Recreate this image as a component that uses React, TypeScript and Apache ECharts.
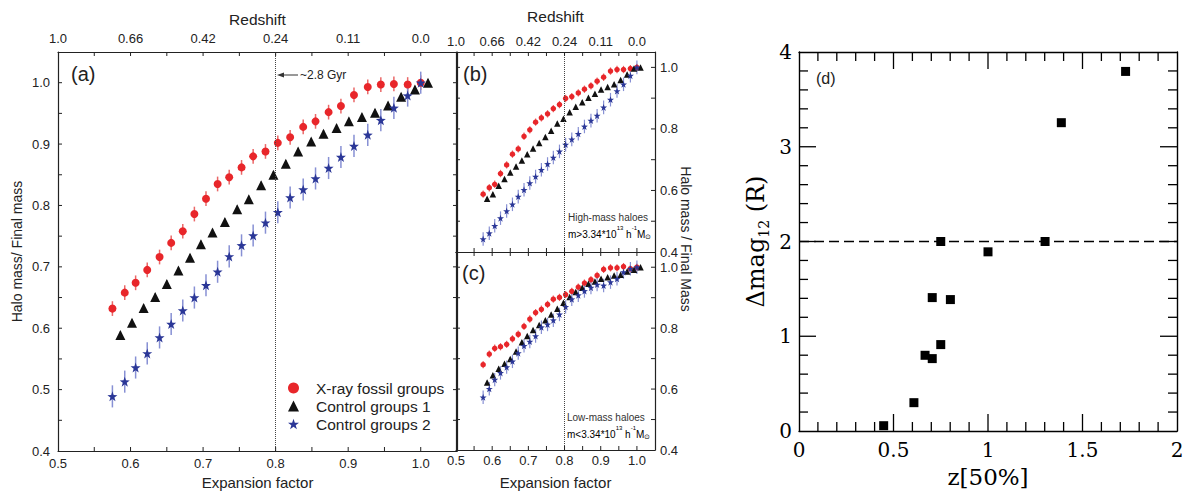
import React, { useEffect, useRef } from "react";
import * as echarts from "echarts";

const SANS = "'Liberation Sans', Arial, Helvetica, sans-serif";
const SERIF = "'DejaVu Serif', 'Liberation Serif', serif";
const AX = "#222";

const SERIES_NAMES = ["X-ray fossil groups", "Control groups 1", "Control groups 2"];
const REDSHIFT_LABELS = ["1.0", "0.66", "0.42", "0.24", "0.11", "0.0"];
const REDSHIFT_AT = [0.5, 0.6, 0.7, 0.8, 0.9, 1.0];
const MARKER_A = 0.8;

// tick positions
const EXP_TICKS = [0.55, 0.6, 0.65, 0.7, 0.75, 0.8, 0.85, 0.9, 0.95, 1.0];
const MASS_TICKS_A = [0.45, 0.5, 0.55, 0.6, 0.65, 0.7, 0.75, 0.8, 0.85, 0.9, 0.95, 1.0];
const MASS_TICKS_BC = [0.5, 0.6, 0.7, 0.8, 0.9, 1.0];
const D_X_MAJOR = [0.5, 1, 1.5];
const D_X_MINOR = [0.1, 0.2, 0.3, 0.4, 0.6, 0.7, 0.8, 0.9, 1.1, 1.2, 1.3, 1.4, 1.6, 1.7, 1.8, 1.9];
const D_Y_MAJOR = [1, 2, 3];
const D_Y_MINOR = [0.2, 0.4, 0.6, 0.8, 1.2, 1.4, 1.6, 1.8, 2.2, 2.4, 2.6, 2.8, 3.2, 3.4, 3.6, 3.8];

const SNAP_X = [0.575, 0.592, 0.607, 0.623, 0.640, 0.656, 0.672, 0.688, 0.704, 0.720, 0.736, 0.753, 0.769, 0.786, 0.803, 0.820, 0.838, 0.855, 0.873, 0.890, 0.908, 0.927, 0.945, 0.963, 0.982, 1.000];
const SNAP_X_CTRL1 = [0.586, 0.602, 0.618, 0.634, 0.650, 0.666, 0.682, 0.697, 0.713, 0.730, 0.747, 0.763, 0.780, 0.797, 0.814, 0.831, 0.849, 0.866, 0.884, 0.901, 0.919, 0.937, 0.955, 0.973, 0.992, 1.010];

const A_FOSSIL = [0.632, 0.658, 0.674, 0.695, 0.716, 0.739, 0.758, 0.786, 0.811, 0.835, 0.846, 0.862, 0.880, 0.888, 0.902, 0.911, 0.928, 0.937, 0.952, 0.962, 0.980, 0.993, 0.997, 0.998, 0.997, 1.000];
const A_CTRL1 = [0.589, 0.609, 0.633, 0.651, 0.672, 0.694, 0.715, 0.737, 0.756, 0.773, 0.794, 0.810, 0.833, 0.850, 0.868, 0.888, 0.904, 0.917, 0.926, 0.937, 0.944, 0.951, 0.963, 0.977, 0.989, 1.000];
const A_CTRL2 = [0.489, 0.513, 0.536, 0.559, 0.585, 0.607, 0.629, 0.650, 0.670, 0.692, 0.717, 0.735, 0.751, 0.772, 0.789, 0.813, 0.826, 0.844, 0.861, 0.879, 0.897, 0.915, 0.939, 0.959, 0.979, 1.000];

const B_FOSSIL = [0.588, 0.609, 0.620, 0.655, 0.683, 0.718, 0.735, 0.776, 0.797, 0.822, 0.836, 0.849, 0.866, 0.879, 0.899, 0.905, 0.917, 0.929, 0.940, 0.955, 0.968, 0.988, 0.993, 0.993, 0.996, 1.000];
const B_CTRL1 = [0.573, 0.588, 0.615, 0.637, 0.658, 0.678, 0.697, 0.718, 0.736, 0.754, 0.774, 0.794, 0.818, 0.833, 0.854, 0.872, 0.887, 0.901, 0.914, 0.928, 0.936, 0.945, 0.959, 0.977, 0.996, 1.000];
const B_CTRL2 = [0.442, 0.461, 0.485, 0.510, 0.533, 0.555, 0.580, 0.602, 0.624, 0.645, 0.667, 0.686, 0.707, 0.727, 0.749, 0.766, 0.784, 0.808, 0.827, 0.843, 0.870, 0.895, 0.923, 0.945, 0.973, 1.000];

const C_FOSSIL = [0.680, 0.715, 0.734, 0.739, 0.747, 0.765, 0.780, 0.806, 0.830, 0.851, 0.862, 0.878, 0.895, 0.901, 0.910, 0.921, 0.935, 0.948, 0.959, 0.973, 0.993, 0.998, 0.998, 1.002, 0.995, 1.000];
const C_CTRL1 = [0.622, 0.645, 0.667, 0.683, 0.699, 0.723, 0.754, 0.774, 0.794, 0.810, 0.826, 0.845, 0.864, 0.883, 0.902, 0.919, 0.933, 0.946, 0.953, 0.962, 0.967, 0.973, 0.975, 0.986, 0.992, 1.000];
const C_CTRL2 = [0.573, 0.601, 0.631, 0.653, 0.672, 0.691, 0.718, 0.742, 0.756, 0.774, 0.803, 0.812, 0.826, 0.845, 0.870, 0.895, 0.908, 0.922, 0.933, 0.943, 0.940, 0.951, 0.962, 0.984, 0.995, 1.000];

const ERR_FOSSIL = 0.012;
const ERR_CTRL1 = 0.006;
const ERR_CTRL2 = 0.018;
const ERR_CTRL2_SUB = 0.022;

const D_Z50 = [0.448, 0.608, 0.667, 0.705, 0.705, 0.750, 0.750, 0.801, 1.000, 1.302, 1.388, 1.728];
const D_DMAG = [0.056, 0.299, 0.799, 0.764, 1.408, 0.912, 2.000, 1.387, 1.891, 2.000, 3.254, 3.795];
const D_LIMIT = 2;

const RED = "#e8262a";
const RED_ERR = "#ea6868";
const BLACK = "#111111";
const BLACK_ERR = "#888888";
const BLUE = "#2b3797";
const BLUE_ERR = "#8790d4";
const STAR = "path://M0,-10L2.35,-3.24L9.51,-3.09L3.8,1.24L5.88,8.09L0,4L-5.88,8.09L-3.8,1.24L-9.51,-3.09L-2.35,-3.24Z";

const isTenth = (v: number) => Math.abs(v * 10 - Math.round(v * 10)) < 1e-6;

function expAxis(gridIndex: number, position: string, labels: string, o: any = {}) {
  let formatter: any = () => "";
  if (labels === "exp") formatter = (v: number) => (isTenth(v) && v <= 1.0001 ? v.toFixed(1) : "");
  if (labels === "z")
    formatter = (v: number) => {
      const i = REDSHIFT_AT.findIndex((t) => Math.abs(t - v) < 1e-6);
      return i >= 0 ? REDSHIFT_LABELS[i] : "";
    };
  return {
    type: "value",
    gridIndex,
    position,
    min: 0.5,
    max: 1.05,
    interval: 0.05,
    axisLine: { show: true, onZero: false, lineStyle: { color: AX, width: 1.2 } },
    axisTick: { show: false },
    splitLine: { show: false },
    axisLabel: {
      show: labels !== "none",
      color: "#222",
      fontFamily: SANS,
      fontSize: o.fontSize ?? 13,
      margin: o.margin ?? 6,
      formatter,
    },
    name: o.name,
    nameLocation: "middle",
    nameGap: o.nameGap,
    nameTextStyle: { fontFamily: SANS, fontSize: o.nameSize ?? 15, color: "#222" },
  };
}

function massAxis(gridIndex: number, position: string, step: number, showLabels: boolean, o: any = {}) {
  return {
    type: "value",
    gridIndex,
    position,
    min: 0.4,
    max: 1.05,
    interval: step,
    axisLine: { show: true, onZero: false, lineStyle: { color: AX, width: 1.2 } },
    axisTick: { show: false },
    splitLine: { show: false },
    axisLabel: {
      show: showLabels,
      color: "#222",
      fontFamily: SANS,
      fontSize: 13,
      margin: o.margin ?? 7,
      formatter: (v: number) => {
        if (v > 1.0001 || !isTenth(v)) return "";
        if (o.every2 && Math.round(v * 10) % 2 !== 0) return "";
        return v.toFixed(1);
      },
    },
    name: o.name,
    nameLocation: "middle",
    nameGap: o.nameGap,
    nameTextStyle: { fontFamily: SANS, fontSize: o.nameSize ?? 14, color: "#222" },
  };
}

function dAxis(isX: boolean, position: string, showLabels: boolean, o: any = {}) {
  return {
    type: "value",
    gridIndex: 3,
    position,
    min: 0,
    max: isX ? 2 : 4,
    interval: isX ? 0.5 : 1,
    axisLine: { show: true, onZero: false, lineStyle: { color: "#000", width: 1.4 } },
    axisTick: { show: false },
    minorTick: { show: false },
    splitLine: { show: false },
    minorSplitLine: { show: false },
    axisLabel: {
      show: showLabels,
      color: "#000",
      fontFamily: SERIF,
      fontSize: 20,
      margin: o.margin ?? 8,
      formatter: (v: number) => String(Math.round(v * 10) / 10),
    },
    name: o.name,
    nameLocation: "middle",
    nameGap: o.nameGap,
    nameTextStyle: o.nameTextStyle,
  };
}

// inside ticks drawn through the grid's own scales: side 0 bottom, 1 top, 2 left, 3 right
function tickSeries(idx: number, xr: number[], yr: number[], items: number[][], color: string, width: number) {
  return {
    type: "custom",
    xAxisIndex: idx,
    yAxisIndex: idx,
    silent: true,
    z: 6,
    clip: false,
    data: items,
    renderItem: (_p: any, api: any) => {
      const side = api.value(0);
      const v = api.value(1);
      const len = api.value(2);
      let p: number[];
      let q: number[];
      if (side === 0) {
        p = api.coord([v, yr[0]]);
        q = [p[0], p[1] - len];
      } else if (side === 1) {
        p = api.coord([v, yr[1]]);
        q = [p[0], p[1] + len];
      } else if (side === 2) {
        p = api.coord([xr[0], v]);
        q = [p[0] + len, p[1]];
      } else {
        p = api.coord([xr[1], v]);
        q = [p[0] - len, p[1]];
      }
      return {
        type: "line",
        shape: { x1: p[0], y1: p[1], x2: q[0], y2: q[1] },
        style: { stroke: color, lineWidth: width },
      };
    },
  };
}

const sideTicks = (sides: number[], vals: number[], len: number) =>
  sides.flatMap((s) => vals.map((v) => [s, v, len]));

function pts(name: string, xs: number[], ys: number[], symbol: string, size: number, color: string, idx: number) {
  return {
    type: "scatter",
    name,
    xAxisIndex: idx,
    yAxisIndex: idx,
    symbol,
    symbolSize: size,
    itemStyle: { color, opacity: 1 },
    data: xs.map((x, i) => [x, ys[i]]),
    z: 4,
  };
}

function errs(xs: number[], ys: number[], err: number, color: string, width: number, idx: number) {
  return {
    type: "custom",
    xAxisIndex: idx,
    yAxisIndex: idx,
    silent: true,
    z: 2,
    data: xs.map((x, i) => [x, ys[i], err]),
    encode: { x: 0, y: 1 },
    renderItem: (_p: any, api: any) => {
      const x = api.value(0);
      const y = api.value(1);
      const e = api.value(2);
      const a = api.coord([x, y - e]);
      const b = api.coord([x, y + e]);
      return {
        type: "line",
        shape: { x1: a[0], y1: a[1], x2: b[0], y2: b[1] },
        style: { stroke: color, lineWidth: width },
      };
    },
  };
}

function vline(idx: number) {
  return {
    type: "scatter",
    xAxisIndex: idx,
    yAxisIndex: idx,
    data: [],
    silent: true,
    markLine: {
      silent: true,
      symbol: ["none", "none"],
      label: { show: false },
      lineStyle: { type: "dotted", color: "#444", width: 1 },
      data: [{ xAxis: MARKER_A }],
    },
  };
}

function panelSeries(idx: number, f: number[], c1: number[], c2: number[], sizes: number[], ew: number, e2: number) {
  return [
    vline(idx),
    errs(SNAP_X, f, ERR_FOSSIL, RED_ERR, ew, idx),
    errs(SNAP_X_CTRL1, c1, ERR_CTRL1, BLACK_ERR, ew, idx),
    errs(SNAP_X, c2, e2, BLUE_ERR, ew, idx),
    pts(SERIES_NAMES[0], SNAP_X, f, "circle", sizes[0], RED, idx),
    pts(SERIES_NAMES[1], SNAP_X_CTRL1, c1, "triangle", sizes[1], BLACK, idx),
    pts(SERIES_NAMES[2], SNAP_X, c2, STAR, sizes[2], BLUE, idx),
  ];
}

function txt(x: number, y: number, text: string, font: string, extra: any = {}) {
  return {
    type: "text",
    x,
    y,
    silent: true,
    style: { text, font, fill: "#222", align: "left", verticalAlign: "middle", ...extra },
  };
}

const massRich = {
  n: { fontSize: 10, fontFamily: SANS, color: "#333", lineHeight: 13, verticalAlign: "bottom" },
  sup: { fontSize: 6, fontFamily: SANS, color: "#333", lineHeight: 13, verticalAlign: "top" },
  sub: { fontSize: 7, fontFamily: SANS, color: "#333", lineHeight: 15, verticalAlign: "bottom" },
};

export default function App() {
  const ref = useRef<HTMLDivElement>(null);
  useEffect(() => {
    if (!ref.current) return;
    const chart = echarts.init(ref.current, null, { renderer: "svg" });
    const EXP_R = [0.5, 1.05];
    const MASS_R = [0.4, 1.05];
    const option: any = {
      animation: false,
      backgroundColor: "#fff",
      grid: [
        { left: 58, top: 52, width: 399, height: 399, containLabel: false, outerBoundsMode: "none" },
        { left: 456, top: 52, width: 199, height: 200, containLabel: false, outerBoundsMode: "none" },
        { left: 456, top: 252, width: 199, height: 198, containLabel: false, outerBoundsMode: "none" },
        { left: 799, top: 52, width: 378, height: 379, containLabel: false, outerBoundsMode: "none" },
      ],
      xAxis: [
        expAxis(0, "bottom", "exp", { margin: 6, name: "Expansion factor", nameGap: 24, nameSize: 15 }),
        expAxis(0, "top", "z", { margin: 7, name: "Redshift", nameGap: 25, nameSize: 15.5 }),
        expAxis(1, "bottom", "none"),
        expAxis(1, "top", "z", { margin: 4, name: "Redshift", nameGap: 28, nameSize: 15.5 }),
        expAxis(2, "bottom", "exp", { margin: 4, name: "Expansion factor", nameGap: 25, nameSize: 15 }),
        expAxis(2, "top", "none"),
        dAxis(true, "bottom", true, {
          margin: 9,
          name: "z[50%]",
          nameGap: 34,
          nameTextStyle: { fontFamily: SERIF, fontSize: 23, color: "#000" },
        }),
        dAxis(true, "top", false),
      ],
      yAxis: [
        massAxis(0, "left", 0.05, true, { margin: 8, name: "Halo mass/ Final mass", nameGap: 34, nameSize: 14 }),
        massAxis(0, "right", 0.05, false),
        massAxis(1, "left", 0.1, false),
        massAxis(1, "right", 0.1, true, { margin: 5, every2: true }),
        massAxis(2, "left", 0.1, false),
        massAxis(2, "right", 0.1, true, { margin: 5, every2: true }),
        dAxis(false, "left", true, {
          margin: 7,
          name: "{m|Δmag}{s|12}{m| (R)}",
          nameGap: 28,
          nameTextStyle: {
            fontFamily: SERIF,
            fontSize: 24,
            color: "#000",
            rich: {
              m: { fontFamily: SERIF, fontSize: 24, color: "#000", lineHeight: 30, verticalAlign: "middle" },
              s: { fontFamily: SERIF, fontSize: 14, color: "#000", lineHeight: 30, verticalAlign: "bottom" },
            },
          },
        }),
        dAxis(false, "right", false),
      ],
      legend: {
        data: SERIES_NAMES,
        orient: "vertical",
        left: 283,
        top: 375,
        itemWidth: 11,
        itemHeight: 11,
        itemGap: 2,
        selectedMode: false,
        textStyle: { fontFamily: SANS, fontSize: 15.5, color: "#222", padding: [0, 0, 0, 12] },
      },
      series: [
        ...panelSeries(0, A_FOSSIL, A_CTRL1, A_CTRL2, [8, 10, 10], 1.5, ERR_CTRL2),
        ...panelSeries(2, B_FOSSIL, B_CTRL1, B_CTRL2, [5.5, 6.5, 7], 1.2, ERR_CTRL2_SUB),
        ...panelSeries(4, C_FOSSIL, C_CTRL1, C_CTRL2, [5.5, 6.5, 7], 1.2, ERR_CTRL2_SUB),
        tickSeries(0, EXP_R, MASS_R, [...sideTicks([0, 1], EXP_TICKS, 4), ...sideTicks([2, 3], MASS_TICKS_A, 4)], AX, 1),
        tickSeries(2, EXP_R, MASS_R, [...sideTicks([0, 1], EXP_TICKS, 4), ...sideTicks([2, 3], MASS_TICKS_BC, 4)], AX, 1),
        tickSeries(4, EXP_R, MASS_R, [...sideTicks([0, 1], EXP_TICKS, 4), ...sideTicks([2, 3], MASS_TICKS_BC, 4)], AX, 1),
        tickSeries(
          6,
          [0, 2],
          [0, 4],
          [
            ...sideTicks([0, 1], D_X_MAJOR, 17),
            ...sideTicks([0, 1], D_X_MINOR, 9),
            ...sideTicks([2, 3], D_Y_MAJOR, 17),
            ...sideTicks([2, 3], D_Y_MINOR, 9),
          ],
          "#000",
          1.3
        ),
        {
          type: "scatter",
          name: "z50",
          xAxisIndex: 6,
          yAxisIndex: 6,
          symbol: "rect",
          symbolSize: 9,
          itemStyle: { color: "#000", opacity: 1 },
          data: D_Z50.map((x, i) => [x, D_DMAG[i]]),
          z: 4,
          markLine: {
            silent: true,
            symbol: ["none", "none"],
            label: { show: false },
            lineStyle: { type: [10, 5], color: "#000", width: 1.4 },
            data: [{ yAxis: D_LIMIT }],
          },
        },
      ],
      graphic: [
        txt(71, 74, "(a)", `20px ${SANS}`),
        txt(463, 74, "(b)", `20px ${SANS}`),
        txt(462, 273, "(c)", `20px ${SANS}`),
        txt(816, 78, "(d)", `16px ${SANS}`),
        {
          type: "line",
          silent: true,
          shape: { x1: 298, y1: 75, x2: 281, y2: 75 },
          style: { stroke: "#333", lineWidth: 1 },
        },
        {
          type: "polygon",
          silent: true,
          shape: { points: [[277, 75], [284, 72.5], [284, 77.5]] },
          style: { fill: "#333" },
        },
        txt(300, 75, "~2.8 Gyr", `12px ${SANS}`),
        txt(568, 217, "High-mass haloes", `10px ${SANS}`, { fill: "#333" }),
        {
          type: "text",
          x: 568,
          y: 232,
          silent: true,
          style: {
            text: "{n|m>3.34*10}{sup|13}{n| h}{sup|-1}{n|M}{sub|⊙}",
            rich: massRich,
            align: "left",
            verticalAlign: "middle",
          },
        },
        txt(567, 417, "Low-mass haloes", `10px ${SANS}`, { fill: "#333" }),
        {
          type: "text",
          x: 567,
          y: 432,
          silent: true,
          style: {
            text: "{n|m<3.34*10}{sup|13}{n| h}{sup|-1}{n|M}{sub|⊙}",
            rich: massRich,
            align: "left",
            verticalAlign: "middle",
          },
        },
        {
          type: "text",
          x: 686,
          y: 239,
          rotation: -Math.PI / 2,
          silent: true,
          style: {
            text: "Halo mass / Final Mass",
            font: `14px ${SANS}`,
            fill: "#222",
            align: "center",
            verticalAlign: "middle",
          },
        },
      ],
    };
    chart.setOption(option);
    return () => chart.dispose();
  }, []);
  return (
    <div
      ref={ref}
      style={{ position: "fixed", left: 0, top: 0, width: 1194, height: 493, background: "#fff" }}
    />
  );
}
